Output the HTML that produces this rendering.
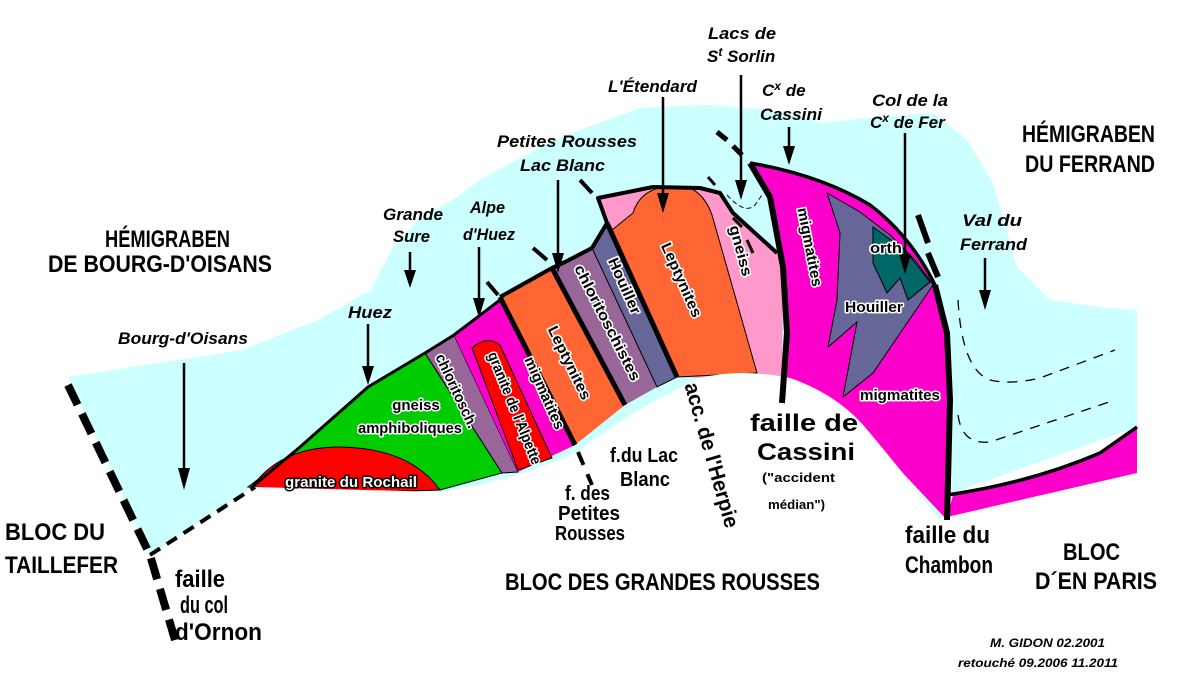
<!DOCTYPE html>
<html><head><meta charset="utf-8"><style>
html,body{margin:0;padding:0;background:#fff;}
svg{display:block;}
text{font-family:"Liberation Sans",sans-serif;font-weight:bold;}
.it{font-style:italic;font-size:17px;}
.big{font-size:24px;}
.in{font-size:15px;fill:#000;stroke:#fff;stroke-width:3px;paint-order:stroke;stroke-linejoin:round;}
.inw{font-size:15px;fill:#fff;stroke:#000;stroke-width:3px;paint-order:stroke;stroke-linejoin:round;}
</style></head><body>
<svg width="1181" height="681" viewBox="0 0 1181 681" xmlns="http://www.w3.org/2000/svg">
<!-- cyan -->
<path d="M68,377 L243,350 L318,320 L371,290 L393,247 L418,220 L457,197 L479,180 L520,158 L560,138 L607,120 L640,108 L707,105 L773,110 L823,123 L880,117 L933,113 L967,140 L993,183 L1017,267 L1050,300 L1100,307 L1137,310 L1137,427 L947,495 L940,520 L150,555 Z" fill="#ccffff"/>
<!-- right magenta band -->
<path d="M953,495 Q1030,483 1100,453 L1137,427 L1137,473 L947,517 Z" fill="#ff00cc"/>
<path d="M947,495 Q1030,483 1100,453 L1137,427" fill="none" stroke="#000" stroke-width="3.5"/>
<!-- green -->
<path d="M248,487 L300,447 L368,387 L425,353 L502,473 L440,490 Z" fill="#00cc00" stroke="#000" stroke-width="1"/>
<path d="M252,487 Q280,447 340,447 Q410,448 440,490 Q350,494 252,487 Z" fill="#ff0000" stroke="#000" stroke-width="1"/>
<!-- chlorito -->
<path d="M425,353 L454,335 L518,472 L502,473 Z" fill="#996699" stroke="#000" stroke-width="1"/>
<!-- magenta band -->
<path d="M454,335 L500,300 L575,445 L518,472 Z" fill="#ff00cc"/>
<path d="M472,348 Q487,335 500,345 L552,458 L518,470 Z" fill="#ff0000" stroke="#000" stroke-width="1"/>
<!-- Leptynites left -->
<path d="M500,297 L552,268 L625,405 L575,445 Z" fill="#ff6633"/>
<!-- chlorito schistes -->
<path d="M552,268 L565,262 L592,248 L657,387 L625,405 Z" fill="#996699"/>
<!-- Houiller -->
<path d="M592,248 L607,223 L677,377 L657,387 Z" fill="#666699" stroke="#000" stroke-width="1"/>
<!-- pink -->
<path d="M598,198 L653,187 L700,188 L720,193 L733,213 L777,253 L783,267 L782,380 L677,377 L607,223 Z" fill="#ff99cc"/>
<path d="M633,213 Q640,190 665,187 L690,188 Q705,195 712,215 L757,373 L677,377 L612,230 Z" fill="#ff6633" stroke="#000" stroke-width="1"/>
<!-- migmatites -->
<path d="M750,163 Q820,175 870,205 Q910,235 935,285 L947,333 L950,400 L947,520 L900,470 L782,403 L787,333 L783,267 L770,197 Z" fill="#ff00cc"/>
<path d="M827,193 L860,212 L890,235 L915,260 L933,285 L873,373 L843,397 L857,322 L828,347 L837,300 L840,233 Z" fill="#666699" stroke="#000" stroke-width="1"/>
<path d="M873,227 L905,250 L930,282 L908,300 L900,278 L887,293 L873,263 Z" fill="#006666" stroke="#000" stroke-width="1"/>
<!-- white basement -->
<path d="M150,555 L252,487 L440,492 Q520,480 580,450 Q640,405 700,378 Q740,368 790,378 Q840,395 870,433 Q905,475 940,520 L940,681 L0,681 L0,560 Z" fill="#fff"/>
<!-- thick boundaries -->
<g fill="none" stroke="#000" stroke-linejoin="round">
<path d="M252,487 L300,447 L368,387 L425,353 L454,335 L500,300" stroke-width="3"/>
<path d="M500,297 L552,268 L565,262 L592,248 L607,223 L598,198 L653,187 L700,188 L720,193 L733,213 L777,253" stroke-width="4"/>
<path d="M500,297 L575,445" stroke-width="5"/>
<path d="M552,268 L625,405" stroke-width="5"/>
<path d="M607,223 L677,377" stroke-width="5"/>
<path d="M750,163 L770,197 L783,267 L787,333 L782,403" stroke-width="6"/>
<path d="M750,163 Q820,175 870,205 Q910,235 935,285" stroke-width="3.5"/>
<path d="M935,285 L947,333 L950,400 L947,520" stroke-width="6"/>
</g>
<!-- dashed -->
<g stroke="#000" fill="none">
<path d="M68,385 L150,555 L175,640" stroke-width="8" stroke-dasharray="22,10"/>
<path d="M150,555 L255,487" stroke-width="4" stroke-dasharray="12,8"/>
<path d="M578,452 L592,485" stroke-width="4" stroke-dasharray="14,10"/>
<path d="M487,282 L498,295" stroke-width="4"/>
<path d="M533,248 L547,260" stroke-width="4"/>
<path d="M580,180 L592,193" stroke-width="4"/>
<path d="M717,132 L727,140 M733,146 L742,155" stroke-width="5"/>
<path d="M708,177 L715,185" stroke-width="3"/>
<path d="M733,218 L742,227 M747,240 L753,253" stroke-width="3"/>
<path d="M918,215 L928,243 M928,253 L938,277" stroke-width="6"/>
<path d="M958,300 Q962,370 990,380 Q1010,385 1040,378 L1115,350" stroke-width="1.3" stroke-dasharray="10,8"/>
<path d="M958,415 Q962,445 990,442 L1115,400" stroke-width="1.3" stroke-dasharray="10,8"/>
<path d="M727,195 Q745,215 755,205 L762,195" stroke-width="1" stroke-dasharray="5,3" stroke="#003"/>
</g>
<!-- arrows -->
<g stroke="#000" stroke-width="2.5">
<line x1="184" y1="363" x2="184" y2="470"/>
<line x1="368" y1="324" x2="368" y2="368"/>
<line x1="410" y1="252" x2="410" y2="272"/>
<line x1="479" y1="247" x2="479" y2="300"/>
<line x1="558" y1="180" x2="558" y2="255"/>
<line x1="663" y1="97" x2="663" y2="195"/>
<line x1="741" y1="75" x2="741" y2="182"/>
<line x1="789" y1="127" x2="789" y2="148"/>
<line x1="905" y1="133" x2="905" y2="256"/>
<line x1="985" y1="258" x2="985" y2="292"/>
</g>
<g fill="#000">
<path d="M178,468 L190,468 L184,490 Z"/><path d="M362,366 L374,366 L368,385 Z"/>
<path d="M404,270 L416,270 L410,288 Z"/><path d="M473,298 L485,298 L479,318 Z"/>
<path d="M552,253 L564,253 L558,273 Z"/><path d="M657,193 L669,193 L663,213 Z"/>
<path d="M735,180 L747,180 L741,200 Z"/><path d="M783,146 L795,146 L789,165 Z"/>
<path d="M899,254 L911,254 L905,274 Z"/><path d="M979,290 L991,290 L985,310 Z"/>
</g>
<!-- big labels -->
<g class="big">
<text x="105" y="247" textLength="125" lengthAdjust="spacingAndGlyphs">HÉMIGRABEN</text>
<text x="48" y="272" textLength="224" lengthAdjust="spacingAndGlyphs">DE BOURG-D'OISANS</text>
<text x="1022" y="142" textLength="133" lengthAdjust="spacingAndGlyphs">HÉMIGRABEN</text>
<text x="1025" y="172" textLength="130" lengthAdjust="spacingAndGlyphs">DU FERRAND</text>
<text x="5" y="540" textLength="100" lengthAdjust="spacingAndGlyphs">BLOC DU</text>
<text x="5" y="573" textLength="113" lengthAdjust="spacingAndGlyphs">TAILLEFER</text>
<text x="175" y="587" textLength="50" lengthAdjust="spacingAndGlyphs">faille</text>
<text x="180" y="613" textLength="48" lengthAdjust="spacingAndGlyphs" style="font-size:24px">du col</text>
<text x="175" y="640" textLength="87" lengthAdjust="spacingAndGlyphs">d'Ornon</text>
<text x="505" y="590" textLength="315" lengthAdjust="spacingAndGlyphs">BLOC DES GRANDES ROUSSES</text>
<text x="905" y="543" textLength="85" lengthAdjust="spacingAndGlyphs">faille du</text>
<text x="905" y="573" textLength="88" lengthAdjust="spacingAndGlyphs">Chambon</text>
<text x="1063" y="560" textLength="57" lengthAdjust="spacingAndGlyphs">BLOC</text>
<text x="1035" y="589" textLength="122" lengthAdjust="spacingAndGlyphs">D´EN PARIS</text>
<text x="750" y="431" textLength="108" lengthAdjust="spacingAndGlyphs">faille de</text>
<text x="757" y="460" textLength="98" lengthAdjust="spacingAndGlyphs">Cassini</text>
</g>
<g style="font-size:20px">
<text x="565" y="500" textLength="45" lengthAdjust="spacingAndGlyphs">f. des</text>
<text x="558" y="520" textLength="62" lengthAdjust="spacingAndGlyphs">Petites</text>
<text x="555" y="540" textLength="70" lengthAdjust="spacingAndGlyphs">Rousses</text>
<text x="610" y="462" textLength="68" lengthAdjust="spacingAndGlyphs">f.du Lac</text>
<text x="620" y="486" textLength="50" lengthAdjust="spacingAndGlyphs">Blanc</text>
<text transform="translate(705,457) rotate(74)" text-anchor="middle" textLength="150" lengthAdjust="spacingAndGlyphs" style="font-size:21px">acc. de l'Herpie</text>
</g>
<text x="762" y="482" style="font-size:13px" textLength="73" lengthAdjust="spacingAndGlyphs">("accident</text>
<text x="768" y="509" style="font-size:13px" textLength="57" lengthAdjust="spacingAndGlyphs">médian")</text>
<!-- italic labels -->
<g class="it">
<text x="118" y="344" textLength="130" lengthAdjust="spacingAndGlyphs">Bourg-d'Oisans</text>
<text x="348" y="318" textLength="44" lengthAdjust="spacingAndGlyphs">Huez</text>
<text x="383" y="220" textLength="60" lengthAdjust="spacingAndGlyphs">Grande</text>
<text x="393" y="242" textLength="37" lengthAdjust="spacingAndGlyphs">Sure</text>
<text x="470" y="213" textLength="35" lengthAdjust="spacingAndGlyphs">Alpe</text>
<text x="463" y="240" textLength="52" lengthAdjust="spacingAndGlyphs">d'Huez</text>
<text x="497" y="147" textLength="140" lengthAdjust="spacingAndGlyphs">Petites Rousses</text>
<text x="520" y="171" textLength="85" lengthAdjust="spacingAndGlyphs">Lac Blanc</text>
<text x="608" y="92" textLength="89" lengthAdjust="spacingAndGlyphs">L'Étendard</text>
<text x="708" y="39" textLength="68" lengthAdjust="spacingAndGlyphs">Lacs de</text>
<text x="707" y="62">S<tspan dy="-6" style="font-size:12px">t</tspan><tspan dy="6"> Sorlin</tspan></text>
<text x="762" y="96">C<tspan dy="-6" style="font-size:12px">x</tspan><tspan dy="6"> de</tspan></text>
<text x="760" y="120" textLength="62" lengthAdjust="spacingAndGlyphs">Cassini</text>
<text x="872" y="106" textLength="76" lengthAdjust="spacingAndGlyphs">Col de la</text>
<text x="870" y="128">C<tspan dy="-6" style="font-size:12px">x</tspan><tspan dy="6"> de Fer</tspan></text>
<text x="962" y="226" textLength="60" lengthAdjust="spacingAndGlyphs">Val du</text>
<text x="960" y="250" textLength="67" lengthAdjust="spacingAndGlyphs">Ferrand</text>
<text x="990" y="647" style="font-size:12px" textLength="115" lengthAdjust="spacingAndGlyphs">M. GIDON 02.2001</text>
<text x="958" y="667" style="font-size:12px" textLength="160" lengthAdjust="spacingAndGlyphs">retouché  09.2006   11.2011</text>
</g>
<!-- in-rock labels -->
<text class="in" x="416" y="410" text-anchor="middle">gneiss</text>
<text class="in" x="410" y="433" text-anchor="middle" textLength="104" lengthAdjust="spacingAndGlyphs">amphiboliques</text>
<text class="inw" x="351" y="487" text-anchor="middle" textLength="132" lengthAdjust="spacingAndGlyphs">granite du Rochail</text>
<text class="in" transform="translate(452,393) rotate(65)" text-anchor="middle" textLength="80" lengthAdjust="spacingAndGlyphs">chloritosch.</text>
<text class="in" transform="translate(510,410) rotate(68)" text-anchor="middle" textLength="120" lengthAdjust="spacingAndGlyphs">granite de l'Alpette</text>
<text class="in" transform="translate(540,395) rotate(66)" text-anchor="middle" textLength="78" lengthAdjust="spacingAndGlyphs">migmatites</text>
<text class="in" transform="translate(565,365) rotate(64)" text-anchor="middle" textLength="80" lengthAdjust="spacingAndGlyphs">Leptynites</text>
<text class="in" transform="translate(603,325) rotate(63)" text-anchor="middle" textLength="128" lengthAdjust="spacingAndGlyphs">chloritoschistes</text>
<text class="in" transform="translate(620,288) rotate(66)" text-anchor="middle" textLength="60" lengthAdjust="spacingAndGlyphs">Houiller</text>
<text class="in" transform="translate(677,282) rotate(66)" text-anchor="middle" textLength="80" lengthAdjust="spacingAndGlyphs">Leptynites</text>
<text class="in" transform="translate(736,252) rotate(75)" text-anchor="middle" textLength="52" lengthAdjust="spacingAndGlyphs">gneiss</text>
<text class="in" transform="translate(805,248) rotate(79)" text-anchor="middle" textLength="80" lengthAdjust="spacingAndGlyphs">migmatites</text>
<text class="in" x="870" y="253" textLength="32" lengthAdjust="spacingAndGlyphs">orth</text>
<text class="in" x="845" y="312" textLength="58" lengthAdjust="spacingAndGlyphs">Houiller</text>
<text class="in" x="860" y="400" textLength="80" lengthAdjust="spacingAndGlyphs">migmatites</text>
</svg>
</body></html>
